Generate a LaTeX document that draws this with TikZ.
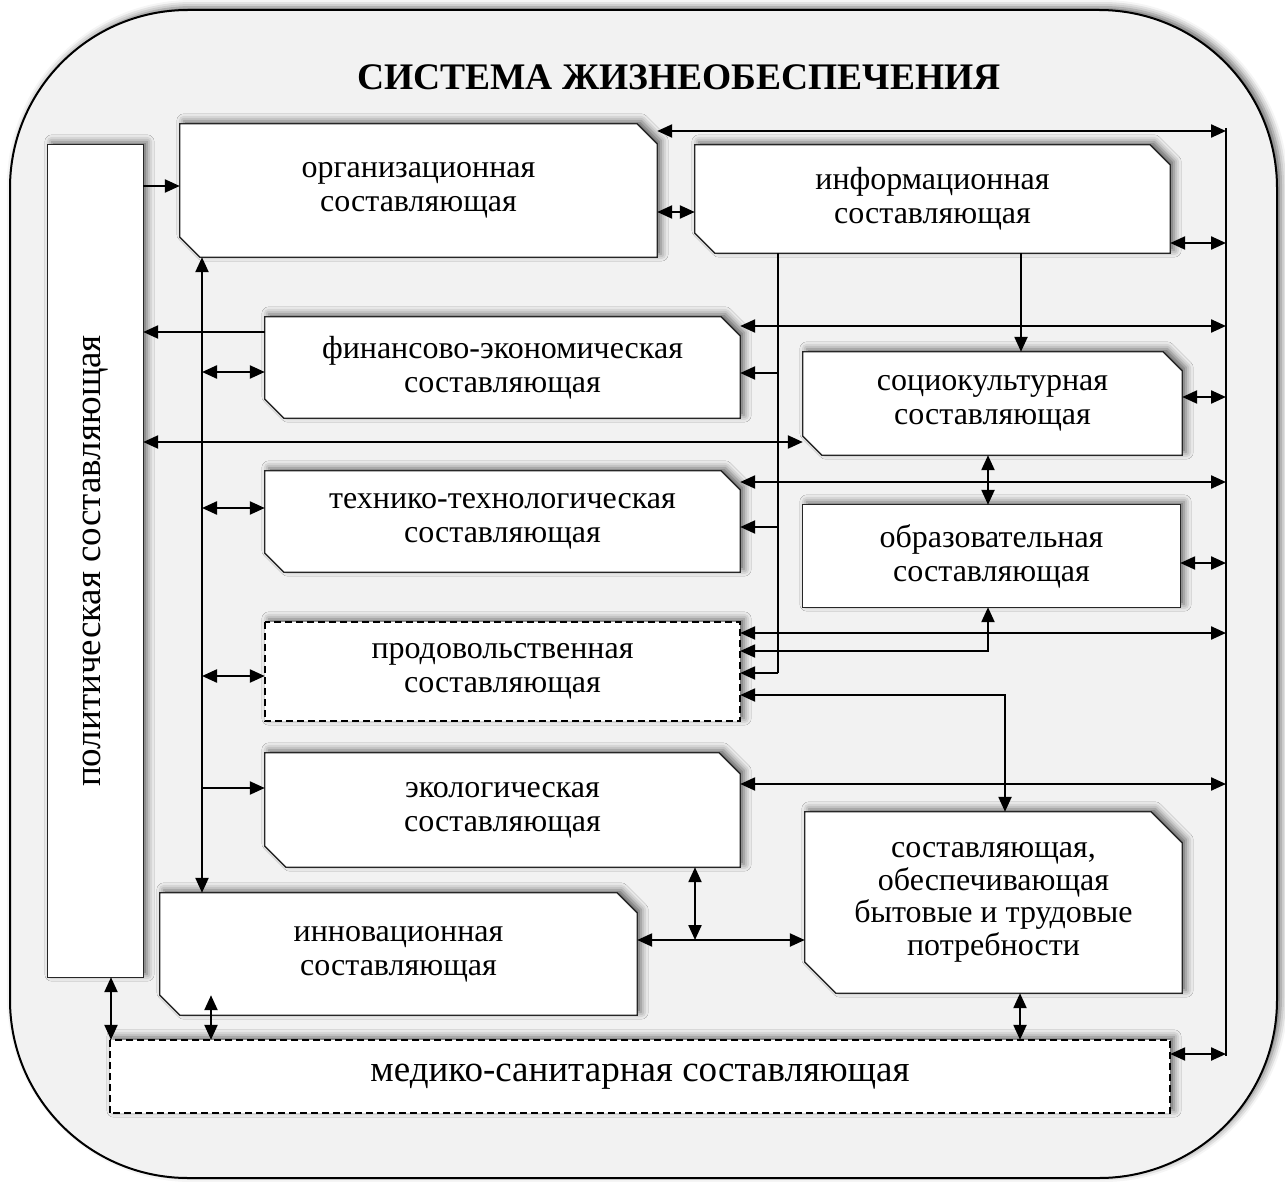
\documentclass[tikz,border=0pt]{standalone}
\usepackage{fontspec}
\usepackage{graphicx}
\setmainfont{Liberation Serif}
\usetikzlibrary{arrows.meta,shadows.blur,backgrounds}

\definecolor{paper}{HTML}{F2F2F2}

% outline of a box with the top-right and bottom-left corners cut off
\newcommand\cutpanel[2]{%
  \path[panel] (#1.north west) -- ([xshift=-#2]#1.north east) -- ([yshift=-#2]#1.north east)
    -- (#1.south east) -- ([xshift=#2]#1.south west) -- ([yshift=#2]#1.south west) -- cycle;}

\begin{document}
\begin{tikzpicture}[x=1pt,y=-1pt,
  lbl/.style={inner sep=0pt, align=center, font=\fontsize{32}{34}\selectfont},
  biglbl/.style={inner sep=0pt, align=center, font=\fontsize{37}{40}\selectfont},
  softshadow/.style={blur shadow={shadow xshift=4pt,shadow yshift=3pt,shadow blur radius=7pt,shadow opacity=60}},
  panel/.style={draw=black!85, line width=1.3pt, fill=white, softshadow},
  dashpanel/.style={panel, draw=black, line width=2pt, dash pattern=on 7pt off 4pt},
  >={Triangle[length=15pt,width=13pt]},
  link/.style={line width=2.3pt, ->},
  dlink/.style={line width=2.3pt, <->},
  rail/.style={line width=1.1pt},
]
\useasboundingbox (0,0) rectangle (1285,1182);

% rounded frame of the whole system
\begin{scope}[on background layer]
\path[draw=black, line width=2pt, fill=paper, softshadow]
  (10,188) arc[start angle=180,end angle=90,radius=178pt]
  -- (1099,10) arc[start angle=90,end angle=0,radius=178pt]
  -- (1277,1000) arc[start angle=0,end angle=-90,radius=178pt]
  -- (188,1178) arc[start angle=270,end angle=180,radius=178pt]
  -- cycle;
\end{scope}

\node[font=\bfseries\fontsize{37.5}{40}\selectfont] (title) at (679,77) {СИСТЕМА ЖИЗНЕОБЕСПЕЧЕНИЯ};

% components
\node[biglbl,minimum width=95pt,minimum height=832pt] (pol) at (95.5,561) {\rotatebox{90}{политическая составляющая}};
\node[lbl,minimum width=477pt,minimum height=133pt] (org) at (418.5,190.5) {организационная\\составляющая};
\node[lbl,minimum width=475pt,minimum height=108pt] (info) at (932.5,199) {информационная\\составляющая};
\node[lbl,minimum width=475pt,minimum height=101pt] (fin) at (502.5,367.5) {финансово-экономическая\\составляющая};
\node[lbl,minimum width=379pt,minimum height=103pt] (soc) at (992.5,403.5) {социокультурная\\составляющая};
\node[lbl,minimum width=475pt,minimum height=101pt] (tech) at (502.5,521.5) {технико-технологическая\\составляющая};
\node[lbl,minimum width=377pt,minimum height=102pt] (edu) at (991.5,556) {образовательная\\составляющая};
\node[lbl,minimum width=475pt,minimum height=99pt] (food) at (502.5,671.5) {продовольственная\\составляющая};
\node[lbl,minimum width=475pt,minimum height=114pt] (eco) at (502.5,810) {экологическая\\составляющая};
\node[lbl,minimum width=377pt,minimum height=181pt,font=\fontsize{32}{32.5}\selectfont] (life) at (993.5,902.5) {составляющая,\\обеспечивающая\\бытовые и трудовые\\потребности};
\node[lbl,minimum width=477pt,minimum height=122pt] (inno) at (398.5,954) {инновационная\\составляющая};
\node[biglbl,minimum width=1060pt,minimum height=73pt] (med) at (640,1076.5) {медико-санитарная составляющая};

% box outlines
\begin{scope}[on background layer]
\path[panel] (pol.north west) rectangle (pol.south east);
\cutpanel{org}{20pt}
\cutpanel{info}{20pt}
\cutpanel{fin}{19pt}
\cutpanel{soc}{19pt}
\cutpanel{tech}{19pt}
\path[panel] (edu.north west) rectangle (edu.south east);
\path[dashpanel] (food.north west) rectangle (food.south east);
\cutpanel{eco}{21pt}
\cutpanel{life}{31pt}
\cutpanel{inno}{20pt}
\path[dashpanel] (med.north west) rectangle (med.south east);
\end{scope}

% guide lines
\coordinate (rail) at (1226,0);
\coordinate (spine) at (202,0);
\coordinate (feed) at (778,0);
\coordinate (junction) at (695,940);

\draw[rail] (rail |- 0,128) -- (rail |- 0,1056);
\draw[rail] (feed |- info.south) -- (feed |- 0,673);
\draw[dlink] (spine |- org.south) -- (spine |- inno.north);

% connections
\draw[link] (pol.east |- 0,186) -- (org.west |- 0,186);
\draw[dlink] (org.east |- 0,131) -- (rail |- 0,131);
\draw[dlink] (org.east |- 0,212) -- (info.west |- 0,212);
\draw[dlink] (info.east |- 0,243) -- (rail |- 0,243);
\draw[link] (1021,0 |- info.south) -- (1021,0 |- soc.north);
\draw[dlink] (fin.east |- 0,326) -- (rail |- 0,326);
\draw[link] (fin.west |- 0,332) -- (pol.east |- 0,332);
\draw[dlink] (spine |- 0,372) -- (fin.west |- 0,372);
\draw[link] (feed |- 0,373) -- (fin.east |- 0,373);
\draw[dlink] (soc.east |- 0,397) -- (rail |- 0,397);
\draw[dlink] (pol.east |- 0,442) -- (soc.west |- 0,442);
\draw[dlink] (tech.east |- 0,482) -- (rail |- 0,482);
\draw[dlink] (988,0 |- soc.south) -- (988,0 |- edu.north);
\draw[dlink] (spine |- 0,508) -- (tech.west |- 0,508);
\draw[link] (feed |- 0,527) -- (tech.east |- 0,527);
\draw[dlink] (edu.east |- 0,563) -- (rail |- 0,563);
\draw[dlink] (food.east |- 0,633) -- (rail |- 0,633);
\draw[dlink] (food.east |- 0,651) -| (988,0 |- edu.south);
\draw[link] (feed |- 0,673) -- (food.east |- 0,673);
\draw[dlink] (spine |- 0,676) -- (food.west |- 0,676);
\draw[dlink] (food.east |- 0,695) -| (1005,0 |- life.north);
\draw[dlink] (eco.east |- 0,784) -- (rail |- 0,784);
\draw[link] (spine |- 0,788) -- (eco.west |- 0,788);
\draw[dlink] (junction |- eco.south) -- (junction);
\draw[dlink] (inno.east |- junction) -- (life.west |- junction);
\draw[dlink] (111,0 |- pol.south) -- (111,0 |- med.north);
\draw[dlink] ([yshift=20pt]inno.south -| 211,0) -- (211,0 |- med.north);
\draw[dlink] (1020,0 |- life.south) -- (1020,0 |- med.north);
\draw[dlink] (med.east |- 0,1054) -- (rail |- 0,1054);
\end{tikzpicture}
\end{document}
